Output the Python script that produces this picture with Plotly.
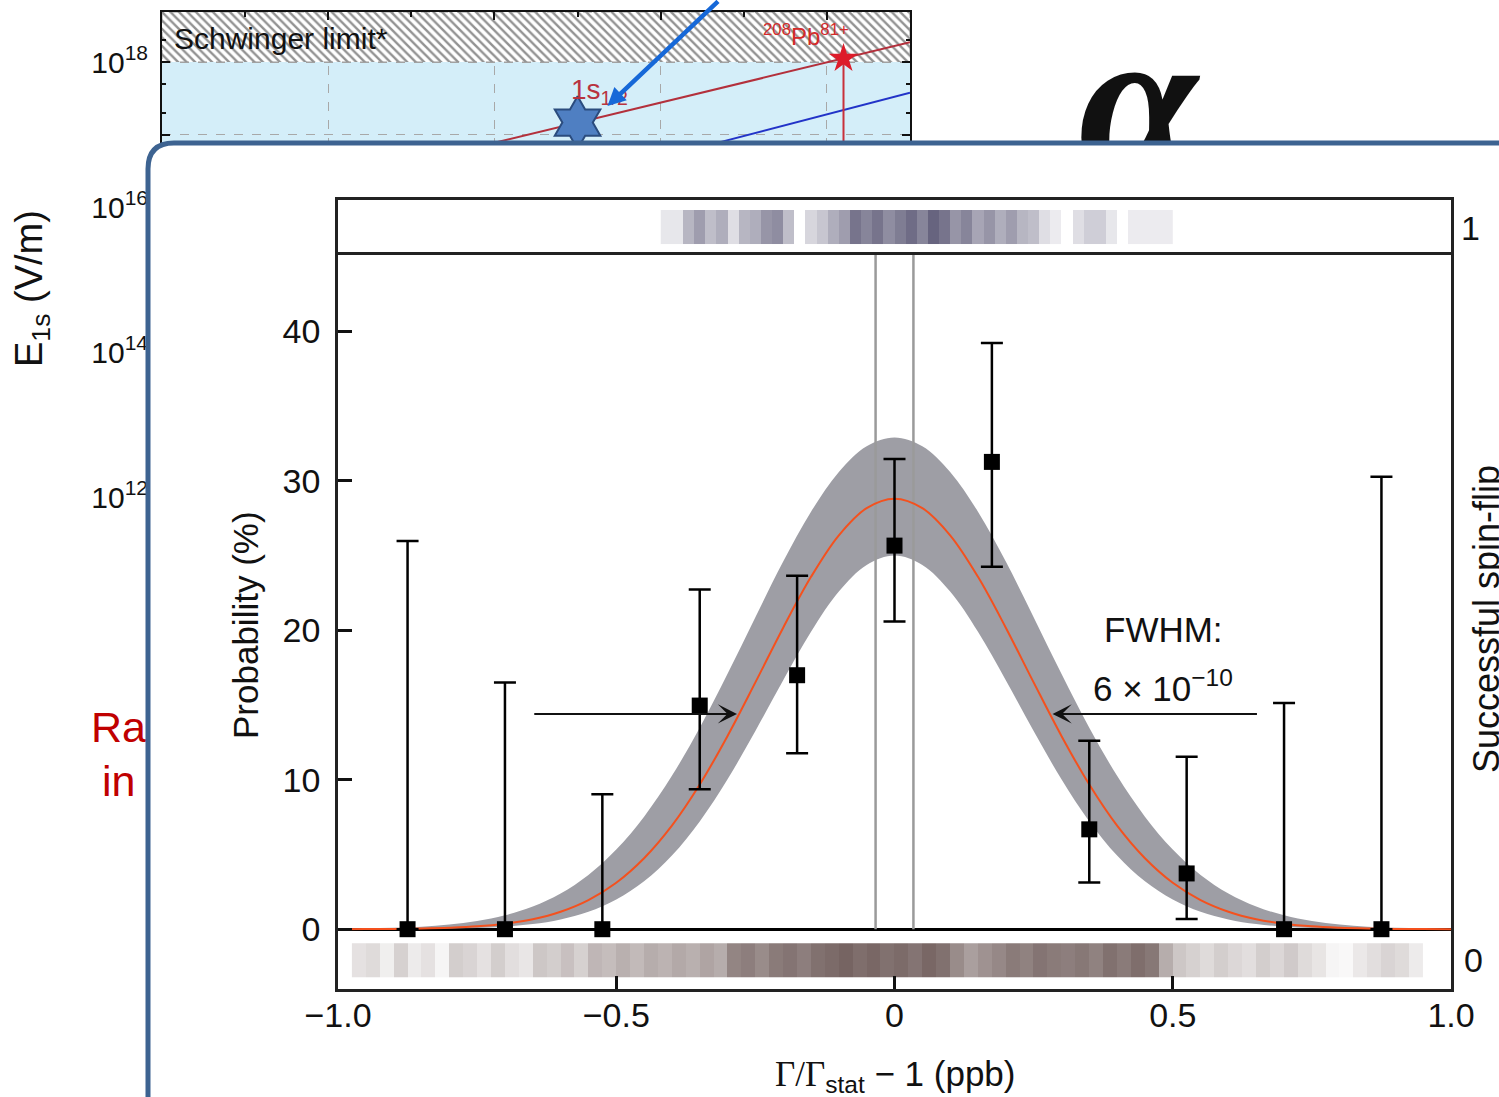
import plotly.graph_objects as go

W, H = 1499, 1097
SANS = "Liberation Sans, Arial, Helvetica, sans-serif"
SERIF = "Liberation Serif, Times New Roman, serif"

# ---------------- spin-flip resonance ----------------
detuning = [-0.875, -0.700, -0.525, -0.350, -0.175, 0.000, 0.175, 0.350, 0.525, 0.700, 0.875]
probability = [0.0, 0.0, 0.0, 14.96, 16.99, 25.66, 31.26, 6.68, 3.73, 0.0, 0.0]
prob_upper = [25.97, 16.51, 9.03, 22.72, 23.64, 31.46, 39.22, 12.61, 11.53, 15.13, 30.27]
prob_lower = [0.0, 0.0, 0.0, 9.36, 11.77, 20.59, 24.25, 3.12, 0.69, 0.0, 0.0]

fit_x = [-1.0, -0.95, -0.9, -0.85, -0.8, -0.75, -0.7, -0.65, -0.6, -0.55, -0.5,
         -0.45, -0.4, -0.35, -0.3, -0.25, -0.2, -0.15, -0.1, -0.05, 0.0,
         0.05, 0.1, 0.15, 0.2, 0.25, 0.3, 0.35, 0.4, 0.45, 0.5,
         0.55, 0.6, 0.65, 0.7, 0.75, 0.8, 0.85, 0.9, 0.95, 1.0]
fit_line = [0.0, 0.01, 0.02, 0.05, 0.10, 0.19, 0.37, 0.67, 1.17, 1.95, 3.11,
            4.75, 6.93, 9.68, 12.93, 16.51, 20.17, 23.57, 26.35, 28.17, 28.8,
            28.17, 26.35, 23.57, 20.17, 16.51, 12.93, 9.68, 6.93, 4.75, 3.11,
            1.95, 1.17, 0.67, 0.37, 0.19, 0.10, 0.05, 0.02, 0.01, 0.0]
fit_band_hi = [0.02, 0.05, 0.09, 0.17, 0.31, 0.55, 0.93, 1.52, 2.39, 3.63, 5.33,
               7.53, 10.26, 13.48, 17.08, 20.87, 24.59, 27.93, 30.59, 32.31, 32.9,
               32.31, 30.59, 27.93, 24.59, 20.87, 17.08, 13.48, 10.26, 7.53, 5.33,
               3.63, 2.39, 1.52, 0.93, 0.55, 0.31, 0.17, 0.09, 0.05, 0.02]
fit_band_lo = [0.0, 0.0, 0.01, 0.02, 0.04, 0.08, 0.17, 0.34, 0.65, 1.16, 1.98,
               3.20, 4.93, 7.21, 10.03, 13.26, 16.66, 19.90, 22.59, 24.37, 25.0,
               24.37, 22.59, 19.90, 16.66, 13.26, 10.03, 7.21, 4.93, 3.20, 1.98,
               1.16, 0.65, 0.34, 0.17, 0.08, 0.04, 0.02, 0.01, 0.0, 0.0]

center_bounds = [-0.034, 0.034]

fwhm_level = 14.4
fwhm_left = (-0.650, -0.283)
fwhm_right = (0.654, 0.284)

# event density strips (successful flips on top, all attempts at bottom)
flip_start, flip_step = -0.42, 0.02
flip_level = [0.15, 0.15, 0.45, 0.60, 0.40, 0.50, 0.20, 0.45, 0.50, 0.65, 0.70, 0.40,
              None, 0.25, 0.35, 0.50, 0.60, 0.85, 0.75, 0.85, 0.70, 0.80, 0.90, 0.75,
              0.95, 0.85, 0.65, 0.75, 0.55, 0.65, 0.50, 0.60, 0.45, 0.40, 0.20, 0.12,
              None, 0.20, 0.30, 0.30, 0.15, None, 0.12, 0.12, 0.12, 0.12]
attempt_start, attempt_step = -0.975, 0.025
attempt_level = [0.18, 0.22, 0.10, 0.28, 0.12, 0.18, 0.06, 0.30, 0.26, 0.18, 0.30, 0.20,
                 0.15, 0.34, 0.30, 0.38, 0.28, 0.44, 0.40, 0.48, 0.42, 0.50, 0.46, 0.52,
                 0.48, 0.55, 0.50, 0.74, 0.78, 0.70, 0.80, 0.84, 0.78, 0.86, 0.90, 0.94,
                 0.88, 0.92, 0.86, 0.90, 0.84, 0.92, 0.86, 0.70, 0.58, 0.66, 0.72, 0.80,
                 0.76, 0.84, 0.80, 0.78, 0.82, 0.76, 0.86, 0.80, 0.88, 0.82, 0.50, 0.34,
                 0.28, 0.22, 0.30, 0.24, 0.20, 0.30, 0.24, 0.32, 0.22, 0.16, 0.06, 0.04,
                 0.14, 0.20, 0.26, 0.22, 0.12]

# ---------------- field strength vs nuclear charge (slide backdrop) ----------------
charge_Z = [40, 50, 60, 70, 80, 90]
field_1s = [7.7e16, 1.46e17, 2.76e17, 5.24e17, 9.9e17, 1.87e18]
charge_Z_b = [60, 70, 80, 90]
field_b = [4.8e16, 9.5e16, 1.89e17, 3.77e17]
schwinger_field = 1.0e18
pb_Z, pb_field = 82, 1.12e18
marked_Z, marked_field = 50, 1.46e17
y2_range = [11, 18.69]
y2_decades = [11, 12, 13, 14, 15, 16, 17, 18]
decade_px = 72.5


def px(x):
    return x / W


def py(y):
    return 1 - y / H


def edges(start, step, n):
    return [round(start + i * step, 4) for i in range(n + 1)]


fig = go.Figure()

# --- slide canvas text, sits under the white panel ---
fig.add_trace(go.Scatter(
    x=[91, 102], y=[731, 785], mode="text", text=["Ra", "in"],
    textposition="middle right",
    textfont=dict(size=43, color="#c00000", family=SANS),
    xaxis="x", yaxis="y", hoverinfo="skip", showlegend=False))
fig.add_trace(go.Scatter(
    x=[1138], y=[120], mode="text", text=["α"], textposition="middle center",
    textfont=dict(size=215, color="#111111", family=SERIF, style="italic", weight="bold"),
    xaxis="x", yaxis="y", hoverinfo="skip", showlegend=False))

# --- backdrop chart ---
top_field = 10 ** y2_range[1]
fig.add_trace(go.Scatter(
    x=[0, 90, 90, 0, 0],
    y=[schwinger_field, schwinger_field, top_field, top_field, schwinger_field],
    mode="lines", fill="toself",
    fillpattern=dict(shape="\\", fgcolor="#262626", bgcolor="#ffffff", size=6, solidity=0.4),
    line=dict(color="#9a9a9a", width=1, dash="dash"),
    xaxis="x2", yaxis="y2", hoverinfo="skip", showlegend=False))
fig.add_trace(go.Scatter(
    x=charge_Z_b, y=field_b, mode="lines", line=dict(color="#2233c8", width=2),
    xaxis="x2", yaxis="y2", hoverinfo="skip", showlegend=False))
fig.add_trace(go.Scatter(
    x=charge_Z, y=field_1s, mode="lines", line=dict(color="#b3303c", width=2),
    xaxis="x2", yaxis="y2", hoverinfo="skip", showlegend=False))
fig.add_trace(go.Scatter(
    x=[pb_Z, pb_Z], y=[pb_field, 10 ** y2_range[0]], mode="lines",
    line=dict(color="#c8303a", width=2),
    xaxis="x2", yaxis="y2", hoverinfo="skip", showlegend=False))
fig.add_trace(go.Scatter(
    x=[pb_Z], y=[pb_field], mode="markers",
    marker=dict(symbol="star", size=22, color="#dd1c2a", line=dict(width=0)),
    xaxis="x2", yaxis="y2", hoverinfo="skip", showlegend=False))
fig.add_trace(go.Scatter(
    x=[marked_Z], y=[marked_field], mode="markers",
    marker=dict(symbol="hexagram", size=40, color="#4f7fc2",
                line=dict(color="#2b4c7e", width=2)),
    xaxis="x2", yaxis="y2", hoverinfo="skip", showlegend=False))

# --- white panel canvas ---
fig.add_trace(go.Scatter(x=[], y=[], xaxis="x3", yaxis="y3", hoverinfo="skip", showlegend=False))

# --- main chart ---
fig.add_trace(go.Heatmap(
    z=[attempt_level], x=edges(attempt_start, attempt_step, len(attempt_level)),
    y=[-3.21, -0.94], zmin=0, zmax=1,
    colorscale=[[0, "#ffffff"], [1, "#6d5a58"]], showscale=False,
    hoverinfo="skip", xaxis="x4", yaxis="y4"))
fig.add_trace(go.Scatter(
    x=fit_x, y=fit_band_lo, mode="lines", line=dict(width=0, shape="spline"),
    xaxis="x4", yaxis="y4", hoverinfo="skip", showlegend=False))
fig.add_trace(go.Scatter(
    x=fit_x, y=fit_band_hi, mode="lines", line=dict(width=0, shape="spline"),
    fill="tonexty", fillcolor="#9e9ea5",
    xaxis="x4", yaxis="y4", hoverinfo="skip", showlegend=False))
for xb in center_bounds:
    fig.add_trace(go.Scatter(
        x=[xb, xb], y=[0, 45.1], mode="lines", line=dict(color="#9a9a9a", width=2.5),
        xaxis="x4", yaxis="y4", hoverinfo="skip", showlegend=False))
fig.add_trace(go.Scatter(
    x=fit_x, y=fit_line, mode="lines", line=dict(color="#f4511e", width=2, shape="spline"),
    xaxis="x4", yaxis="y4", hoverinfo="skip", showlegend=False))
fig.add_trace(go.Scatter(
    x=detuning, y=probability, mode="markers",
    marker=dict(symbol="square", size=16, color="#000000"),
    error_y=dict(type="data", symmetric=False,
                 array=[u - p for u, p in zip(prob_upper, probability)],
                 arrayminus=[p - l for p, l in zip(probability, prob_lower)],
                 color="#000000", thickness=2.5, width=11),
    xaxis="x4", yaxis="y4", hoverinfo="skip", showlegend=False))

# top strip
fig.add_trace(go.Heatmap(
    z=[flip_level], x=edges(flip_start, flip_step, len(flip_level)),
    y=[0.2, 0.818], zmin=0, zmax=1,
    colorscale=[[0, "#ffffff"], [1, "#5f5c78"]], showscale=False,
    hoverinfo="skip", xaxis="x5", yaxis="y5"))

axis_font = dict(family=SANS, size=34, color="#111111")
frame = dict(showline=True, linecolor="#222222", linewidth=2.5, automargin=False)
hidden = dict(visible=False, automargin=False)

layout = dict(
    width=W, height=H, autosize=False,
    margin=dict(l=0, r=0, t=0, b=0, pad=0, autoexpand=False),
    paper_bgcolor="#ffffff", plot_bgcolor="rgba(0,0,0,0)", showlegend=False,
    font=dict(family=SANS, color="#111111"),
    xaxis=dict(domain=[0, 1], range=[0, W], anchor="y", **hidden),
    yaxis=dict(domain=[0, 1], range=[H, 0], anchor="x", **hidden),
    xaxis2=dict(domain=[px(162), px(910)], range=[0, 90], anchor="y2", automargin=False,
                showline=True, linecolor="#111111", linewidth=2, mirror="ticks",
                tick0=0, dtick=20, ticks="inside", ticklen=8, tickwidth=2, tickcolor="#111111",
                showticklabels=False,
                showgrid=True, gridcolor="#a8a8a8", griddash="dash", gridwidth=1,
                minor=dict(dtick=10, ticks="inside", ticklen=5, tickcolor="#111111", showgrid=False),
                zeroline=False),
    yaxis2=dict(domain=[py(12 + decade_px * (y2_range[1] - y2_range[0])), py(12)],
                type="log", range=y2_range, anchor="x2", automargin=False,
                showline=True, linecolor="#111111", linewidth=2, mirror="ticks",
                tickvals=[10 ** d for d in y2_decades],
                ticktext=["10<sup>%d</sup>" % d if d % 2 == 0 else "" for d in y2_decades],
                ticks="inside", ticklen=8, tickwidth=2, tickcolor="#111111",
                ticklabelstandoff=6,
                tickfont=dict(family=SANS, size=30, color="#111111"),
                showgrid=True, gridcolor="#a8a8a8", griddash="dash", gridwidth=1,
                minor=dict(ticks="inside", ticklen=4, tickcolor="#111111", showgrid=False),
                zeroline=False),
    xaxis3=dict(domain=[0, 1], range=[0, W], anchor="y3", **hidden),
    yaxis3=dict(domain=[0, 1], range=[H, 0], anchor="x3", **hidden),
    xaxis4=dict(domain=[px(338), px(1451)], range=[-1, 1], anchor="y4", mirror=True, **frame,
                tickvals=[-1, -0.5, 0, 0.5, 1],
                ticktext=["\u22121.0", "\u22120.5", "0", "0.5", "1.0"],
                ticks="inside", ticklen=13, tickwidth=2.5, tickcolor="#111111",
                ticklabelstandoff=-6, tickfont=axis_font, showgrid=False, zeroline=False),
    yaxis4=dict(domain=[py(989), py(255)], range=[-4.0, 45.1], anchor="x4", mirror=True, **frame,
                tickvals=[0, 10, 20, 30, 40],
                ticks="inside", ticklen=14, tickwidth=2.5, tickcolor="#111111",
                ticklabelstandoff=8, tickfont=axis_font, showgrid=False,
                zeroline=True, zerolinecolor="#000000", zerolinewidth=2.5),
    xaxis5=dict(domain=[px(338), px(1451)], range=[-1, 1], anchor="y5", side="top",
                mirror=False, **frame,
                showticklabels=False, ticks="", showgrid=False, zeroline=False),
    yaxis5=dict(domain=[py(255), py(200)], range=[0, 1], anchor="x5", mirror=True, **frame,
                showticklabels=False, ticks="", showgrid=False, zeroline=False),
)
fig.update_layout(**layout)

# light-blue allowed-field region of the backdrop chart
fig.add_shape(type="rect", xref="x2 domain", yref="y2 domain",
              x0=0, x1=1, y0=0, y1=(18 - y2_range[0]) / (y2_range[1] - y2_range[0]),
              fillcolor="#d4eef9", line=dict(width=0), layer="below")

# white rounded panel holding the resonance chart
fig.add_shape(type="path", xref="x3", yref="y3", layer="below",
              path="M 148,1120 L 148,169 Q 148,143 174,143 L 1520,143 L 1520,1120 Z",
              fillcolor="#ffffff", line=dict(color="#3d6391", width=5))


def label(x, y, text, size, color="#111111", angle=0, **kw):
    d = dict(x=x, y=y, text=text, showarrow=False, textangle=angle,
             xanchor="center", yanchor="middle",
             font=dict(family=SANS, size=size, color=color))
    d.update(kw)
    return d


ann = []
# backdrop labels
ann.append(label(1.2, 18.33, "Schwinger limit*", 30, xref="x2", yref="y2", xanchor="left"))
ann.append(label(77.5, 18.37, "<sup>208</sup>Pb<sup>81+</sup>", 24, "#d42a2a", xref="x2", yref="y2"))
ann.append(label(52.6, 17.60, "1s<sub>1/2</sub>", 28, "#b8333f", xref="x2", yref="y2"))
ann.append(dict(x=53.6, y=17.393, xref="x2", yref="y2", text="", showarrow=True,
                ax=112, ay=-128, arrowcolor="#1668d8", arrowwidth=4.5,
                arrowhead=2, arrowsize=0.8))
ann.append(label(px(32), py(289), "E<sub>1s</sub> (V/m)", 38, angle=-90,
                 xref="paper", yref="paper"))

# main chart labels
ann.append(label(px(245), py(625), "Probability (%)", 35, angle=-90, xref="paper", yref="paper"))
ann.append(label(px(895), py(1052),
                 "<span style='font-family:Liberation Serif'>\u0393/\u0393</span>"
                 "<sub>stat</sub> \u2212 1 (ppb)", 35,
                 xref="paper", yref="paper", yanchor="top"))
ann.append(label(px(1486), py(619), "Successful spin-flip", 36, angle=-90,
                 xref="paper", yref="paper"))
ann.append(label(px(1470), py(228), "1", 34, xref="paper", yref="paper"))
ann.append(label(px(1473), py(960), "0", 34, xref="paper", yref="paper"))
ann.append(label(0.4825, 20.07, "FWHM:", 35, xref="x4", yref="y4"))
ann.append(label(0.4825, 16.25, "6 \u00d7 10<sup>\u221210</sup>", 35, xref="x4", yref="y4"))
for tail, head in (fwhm_left, fwhm_right):
    ann.append(dict(x=head, y=fwhm_level, ax=tail, ay=fwhm_level,
                    xref="x4", yref="y4", axref="x4", ayref="y4", text="",
                    showarrow=True, arrowhead=3, arrowsize=1.6, arrowwidth=2,
                    arrowcolor="#111111"))
fig.update_layout(annotations=ann)

fig.write_html("out.html")
